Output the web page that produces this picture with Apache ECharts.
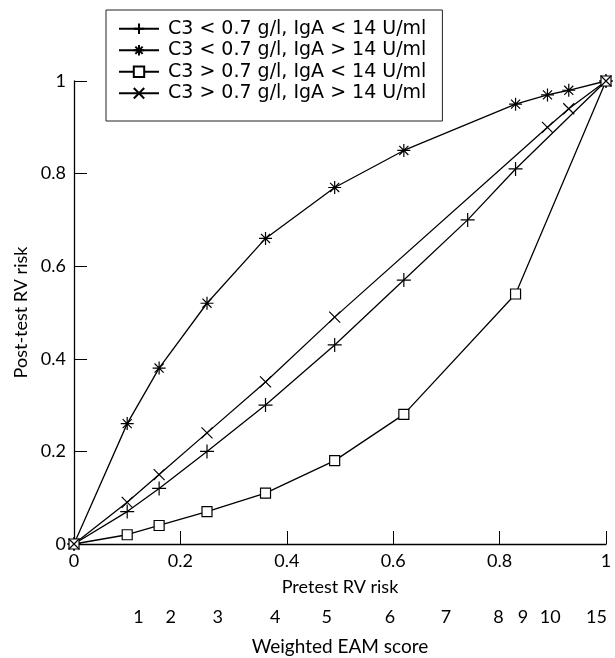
<!DOCTYPE html>
<html>
<head>
<meta charset="utf-8">
<script src="https://cdn.jsdelivr.net/npm/echarts@6/dist/echarts.min.js"></script>
<style>
html, body { margin: 0; padding: 0; background: #fff; }
#chart { width: 615px; height: 658px; }
</style>
</head>
<body>
<div id="chart"></div>
<script>
// pretest risk (x) and post-test risk (y) for each group
var lowC3LowIgA = [[0, 0], [0.1, 0.07], [0.16, 0.12], [0.25, 0.2], [0.36, 0.3], [0.49, 0.43], [0.62, 0.57], [0.74, 0.7], [0.83, 0.81], [1, 1]];
var lowC3HighIgA = [[0, 0], [0.1, 0.26], [0.16, 0.38], [0.25, 0.52], [0.36, 0.66], [0.49, 0.77], [0.62, 0.85], [0.83, 0.95], [0.89, 0.97], [0.93, 0.98], [1, 1]];
var highC3LowIgA = [[0, 0], [0.1, 0.02], [0.16, 0.04], [0.25, 0.07], [0.36, 0.11], [0.49, 0.18], [0.62, 0.28], [0.83, 0.54], [1, 1]];
var highC3HighIgA = [[0, 0], [0.1, 0.09], [0.16, 0.15], [0.25, 0.24], [0.36, 0.35], [0.49, 0.49], [0.89, 0.9], [0.93, 0.94], [1, 1]];

var seriesNames = [
    'C3 < 0.7 g/l, IgA < 14 U/ml',
    'C3 < 0.7 g/l, IgA > 14 U/ml',
    'C3 > 0.7 g/l, IgA < 14 U/ml',
    'C3 > 0.7 g/l, IgA > 14 U/ml'
];

// weighted EAM score labels and where they sit on the pretest risk scale
var scoreLabels = ['1', '2', '3', '4', '5', '6', '7', '8', '9', '10', '15'];
var scorePositions = [0.121, 0.182, 0.27, 0.378, 0.475, 0.594, 0.699, 0.798, 0.844, 0.895, 0.982];

var font = 'Lato';
var legendFont = 'DejaVu Sans';

var plusSym = 'path://M0,5L10,5M5,0L5,10';
var starSym = 'path://M0,5L10,5M5,0L5,10M1.5,1.5L8.5,8.5M8.5,1.5L1.5,8.5';
var crossSym = 'path://M0,0L10,10M10,0L0,10';

function makeSeries(name, data, symbol, size, fill) {
    return {
        name: name,
        type: 'line',
        data: data,
        symbol: symbol,
        symbolSize: size,
        showAllSymbol: true,
        lineStyle: { color: '#000', width: 1.3 },
        itemStyle: { color: fill, borderColor: '#000', borderWidth: 1.2 },
        emphasis: { disabled: true },
        z: 3
    };
}

var myChart = echarts.init(document.getElementById('chart'));

var option = {
    animation: false,
    backgroundColor: '#fff',
    textStyle: { fontFamily: font, color: '#000' },
    legend: {
        orient: 'vertical',
        left: 106,
        top: 10,
        padding: [8, 16, 17, 12],
        itemWidth: 40,
        itemHeight: 13,
        itemGap: 0,
        borderColor: '#222',
        borderWidth: 1,
        backgroundColor: '#fff',
        textStyle: { fontFamily: legendFont, fontSize: 19, color: '#000', lineHeight: 21.5, padding: [0, 0, 0, 4] },
        data: seriesNames
    },
    grid: { left: 74, right: 9, top: 81, bottom: 114, outerBoundsMode: 'none' },
    xAxis: [
        {
            type: 'value',
            min: 0,
            max: 1,
            interval: 0.2,
            name: 'Pretest RV risk',
            nameLocation: 'middle',
            nameGap: 34,
            nameTextStyle: { fontFamily: font, fontSize: 18, color: '#000' },
            axisLine: { lineStyle: { color: '#000', width: 1.3 } },
            axisTick: { inside: true, length: 13, lineStyle: { color: '#000' } },
            axisLabel: { fontFamily: font, fontSize: 18, color: '#000', margin: 8 },
            splitLine: { show: false }
        },
        {
            type: 'value',
            min: 0,
            max: 1,
            position: 'bottom',
            name: 'Weighted EAM score',
            nameLocation: 'middle',
            nameGap: 93,
            nameTextStyle: { fontFamily: font, fontSize: 19, color: '#000' },
            axisLine: { show: false },
            axisTick: { show: false },
            splitLine: { show: false },
            axisLabel: {
                fontFamily: font,
                fontSize: 18,
                color: '#000',
                margin: 64,
                customValues: scorePositions,
                formatter: function (v) {
                    var best = 0;
                    for (var i = 1; i < scorePositions.length; i++) {
                        if (Math.abs(scorePositions[i] - v) < Math.abs(scorePositions[best] - v)) best = i;
                    }
                    return scoreLabels[best];
                }
            }
        }
    ],
    yAxis: {
        type: 'value',
        min: 0,
        max: 1,
        interval: 0.2,
        name: 'Post-test RV risk',
        nameLocation: 'middle',
        nameGap: 37,
        nameTextStyle: { fontFamily: font, fontSize: 18, color: '#000' },
        axisLine: { show: true, lineStyle: { color: '#000', width: 1.3 } },
        axisTick: { show: true, inside: true, length: 13, lineStyle: { color: '#000' } },
        axisLabel: { fontFamily: font, fontSize: 18, color: '#000', margin: 8 },
        splitLine: { show: false }
    },
    series: [
        makeSeries(seriesNames[0], lowC3LowIgA, plusSym, 14, 'none'),
        makeSeries(seriesNames[1], lowC3HighIgA, starSym, 13, 'none'),
        makeSeries(seriesNames[2], highC3LowIgA, 'rect', 10, '#fff'),
        makeSeries(seriesNames[3], highC3HighIgA, crossSym, 11, 'none')
    ]
};

myChart.setOption(option);
</script>
</body>
</html>
